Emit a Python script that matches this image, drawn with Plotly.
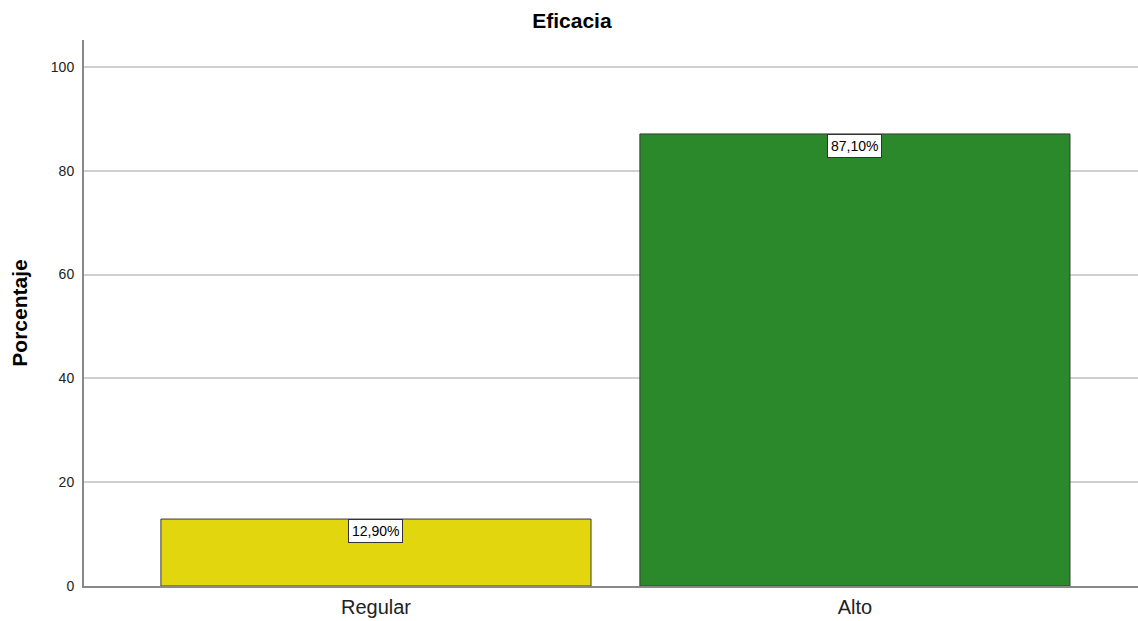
import plotly.graph_objects as go

# Data
categories = ["Regular", "Alto"]
percentages = [12.90, 87.10]
bar_colors = ["#E2D70F", "#2B882B"]
y_ticks = [0, 20, 40, 60, 80, 100]

x_pos = list(range(len(categories)))
FONT = "Arial, Liberation Sans"

fig = go.Figure()
fig.add_trace(go.Bar(
    x=x_pos,
    y=percentages,
    width=0.898,
    marker=dict(color=bar_colors, line=dict(color="#3a3a3a", width=1)),
    hoverinfo="skip",
))

# Value labels boxed just under each bar top
for xi, v in zip(x_pos, percentages):
    fig.add_annotation(
        x=xi, y=v, xref="x", yref="y",
        text=f"{v:.2f}%".replace(".", ","),
        showarrow=False, yanchor="top", yshift=0,
        font=dict(family=FONT, size=14, color="#000000"),
        bgcolor="#FFFFFF", bordercolor="#333333", borderwidth=1, borderpad=3,
    )

fig.update_layout(
    width=1138, height=621,
    margin=dict(l=84, r=0, t=40, b=35),
    paper_bgcolor="#FFFFFF", plot_bgcolor="#FFFFFF",
    showlegend=False,
    title=dict(
        text="<b>Eficacia</b>", x=0.5026, xanchor="center", y=0.966, yanchor="middle",
        font=dict(family=FONT, size=21, color="#000000"),
    ),
    xaxis=dict(
        range=[-0.6096, 1.591],
        tickmode="array", tickvals=x_pos, ticktext=categories,
        tickfont=dict(family=FONT, size=20, color="#222222"),
        ticklabelstandoff=2,
        showgrid=False, zeroline=False,
        showline=True, linecolor="#888888", linewidth=2,
        ticks="", fixedrange=True,
    ),
    yaxis=dict(
        range=[0, 105.2],
        tickmode="array", tickvals=y_ticks,
        tickfont=dict(family=FONT, size=14, color="#222222"),
        ticklabelstandoff=5,
        showgrid=True, gridcolor="#D0D0D0", gridwidth=2,
        zeroline=False,
        showline=True, linecolor="#888888", linewidth=2,
        ticks="", ticklen=0,
        title=dict(text="<b>Porcentaje</b>",
                   font=dict(family=FONT, size=21, color="#000000"),
                   standoff=17),
        fixedrange=True,
    ),
)

fig.write_html("out.html")
